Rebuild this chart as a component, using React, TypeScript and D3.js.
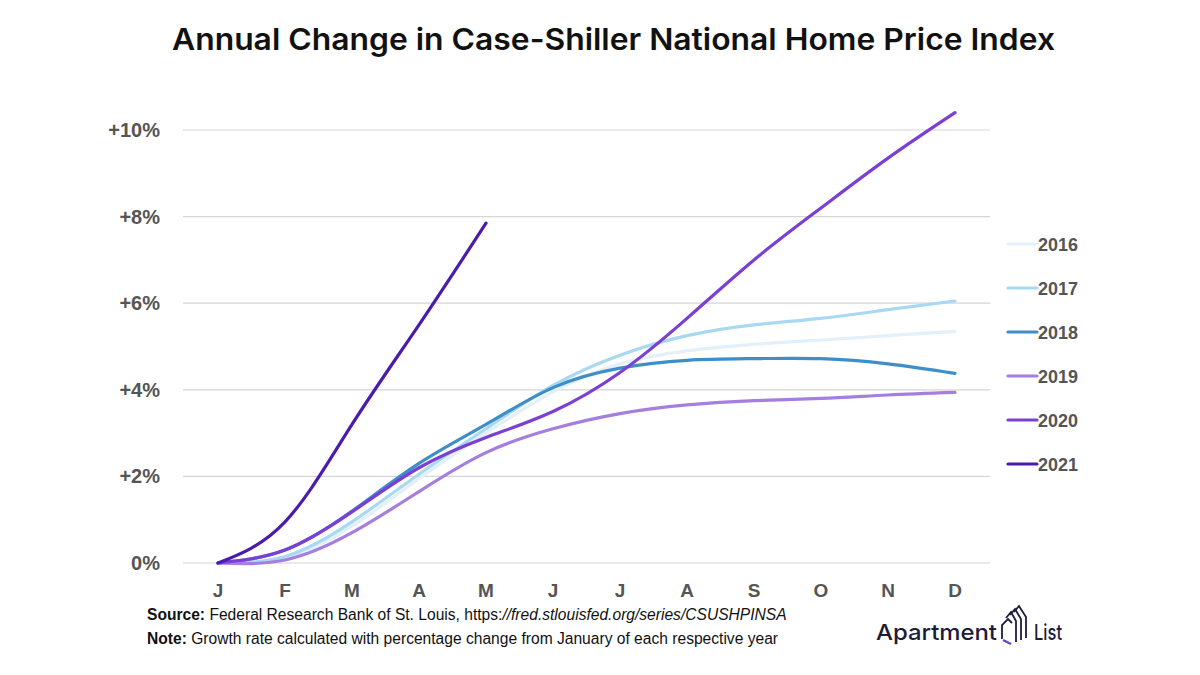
import React from "react";
import * as d3 from "d3";

const months = ["J", "F", "M", "A", "M", "J", "J", "A", "S", "O", "N", "D"];
const yTicks = [0, 2, 4, 6, 8, 10];

const v2016 = [0, 0.12, 0.85, 1.95, 3.0, 3.95, 4.6, 4.9, 5.05, 5.15, 5.25, 5.35];
const v2017 = [0, 0.15, 0.95, 2.05, 3.1, 4.1, 4.8, 5.25, 5.5, 5.65, 5.85, 6.05];
const v2018 = [0, 0.3, 1.2, 2.3, 3.2, 4.05, 4.5, 4.68, 4.72, 4.72, 4.6, 4.38];
const v2019 = [0, 0.07, 0.7, 1.65, 2.55, 3.1, 3.45, 3.65, 3.75, 3.8, 3.88, 3.94];
const v2020 = [0, 0.3, 1.18, 2.2, 2.9, 3.5, 4.4, 5.65, 7.0, 8.2, 9.35, 10.4];
const v2021 = [0, 0.95, 3.2, 5.5, 7.85];

const seriesNames = ["2016", "2017", "2018", "2019", "2020", "2021"];
const seriesValues = [v2016, v2017, v2018, v2019, v2020, v2021];
const seriesColors = ["#E3F0F9", "#A9D9F2", "#3E8FC9", "#A47FE0", "#7A3FD5", "#4A1CAE"];

export default function App() {
  const x = d3.scaleLinear().domain([0, 11]).range([218, 955]);
  const y = d3.scaleLinear().domain([0, 10]).range([563, 130]);
  const line = d3
    .line<number>()
    .x((_, i) => x(i))
    .y((d) => y(d))
    .curve(d3.curveNatural);

  const axisFont = "'Liberation Sans', Arial, Helvetica, sans-serif";
  const logoFont = "Inter, 'Noto Sans', sans-serif";
  const legendY = d3.scaleLinear().domain([0, 5]).range([244, 464]);
  const stripes = [0, 1, 2];

  return (
    <svg width={1200} height={675} style={{ position: "absolute", left: 0, top: 0, background: "#fff" }}>
      <rect width={1200} height={675} fill="#fff" />
      <text
        x={172}
        y={50}
        textLength={883}
        lengthAdjust="spacingAndGlyphs"
        fontFamily={logoFont}
        fontWeight={600}
        fontSize={30}
        fill="#111"
      >
        Annual Change in Case-Shiller National Home Price Index
      </text>

      {yTicks.map((t) => (
        <g key={t}>
          <line x1={183} x2={990} y1={y(t)} y2={y(t)} stroke="#d6d6d6" strokeWidth={1.2} />
          <text
            x={160}
            y={y(t) + 7}
            textAnchor="end"
            fontFamily={axisFont}
            fontWeight="bold"
            fontSize={20}
            fill="#555"
          >
            {t === 0 ? "0%" : `+${t}%`}
          </text>
        </g>
      ))}

      {months.map((m, i) => (
        <text
          key={i}
          x={x(i)}
          y={597}
          textAnchor="middle"
          fontFamily={axisFont}
          fontWeight="bold"
          fontSize={19}
          fill="#555"
        >
          {m}
        </text>
      ))}

      {seriesValues.map((vals, k) => (
        <path
          key={seriesNames[k]}
          d={line(vals) || ""}
          fill="none"
          stroke={seriesColors[k]}
          strokeWidth={3.2}
          strokeLinecap="round"
        />
      ))}

      {seriesNames.map((n, k) => (
        <g key={n}>
          <line
            x1={1008}
            x2={1037}
            y1={legendY(k)}
            y2={legendY(k)}
            stroke={seriesColors[k]}
            strokeWidth={3.2}
            strokeLinecap="round"
          />
          <text
            x={1038}
            y={legendY(k) + 7}
            fontFamily={axisFont}
            fontWeight="bold"
            fontSize={18}
            fill="#555"
          >
            {n}
          </text>
        </g>
      ))}

      <text x={147} y={620} fontFamily={axisFont} fontSize={15.6} fill="#111">
        <tspan fontWeight="bold">Source:</tspan>
        <tspan> Federal Research Bank of St. Louis, https:</tspan>
        <tspan fontStyle="italic">//fred.stlouisfed.org/series/CSUSHPINSA</tspan>
      </text>
      <text x={147} y={644} fontFamily={axisFont} fontSize={15.6} fill="#111">
        <tspan fontWeight="bold">Note:</tspan>
        <tspan> Growth rate calculated with percentage change from January of each respective year</tspan>
      </text>

      <g>
        <text
          x={876}
          y={640}
          textLength={121}
          lengthAdjust="spacingAndGlyphs"
          fontFamily={logoFont}
          fontWeight={500}
          fontSize={22}
          fill="#1d1b3a"
        >
          Apartment
        </text>
        <g fill="none" strokeWidth={1.8} strokeLinejoin="miter" strokeLinecap="butt">
          <path d="M1002 639 L1002 625 L1008 619 L1012 623" stroke="#1d1b3a" />
          <path d="M1003 640 L1011 644" stroke="#6a3fd0" strokeWidth={2.2} />
          {stripes.map((k) => (
            <path
              key={k}
              d={`M${1006 + 4 * k} ${618 - 3 * k} L${1011 + 4 * k} ${612 - 3 * k} L${1016 + 5 * k} ${621 - 2 * k} L${1016 + 5 * k} ${642 - 2 * k}`}
              stroke="#1d1b3a"
            />
          ))}
        </g>
        <text
          x={1034}
          y={640}
          textLength={28}
          lengthAdjust="spacingAndGlyphs"
          fontFamily={logoFont}
          fontWeight={500}
          fontSize={22}
          fill="#1d1b3a"
        >
          List
        </text>
      </g>
    </svg>
  );
}
